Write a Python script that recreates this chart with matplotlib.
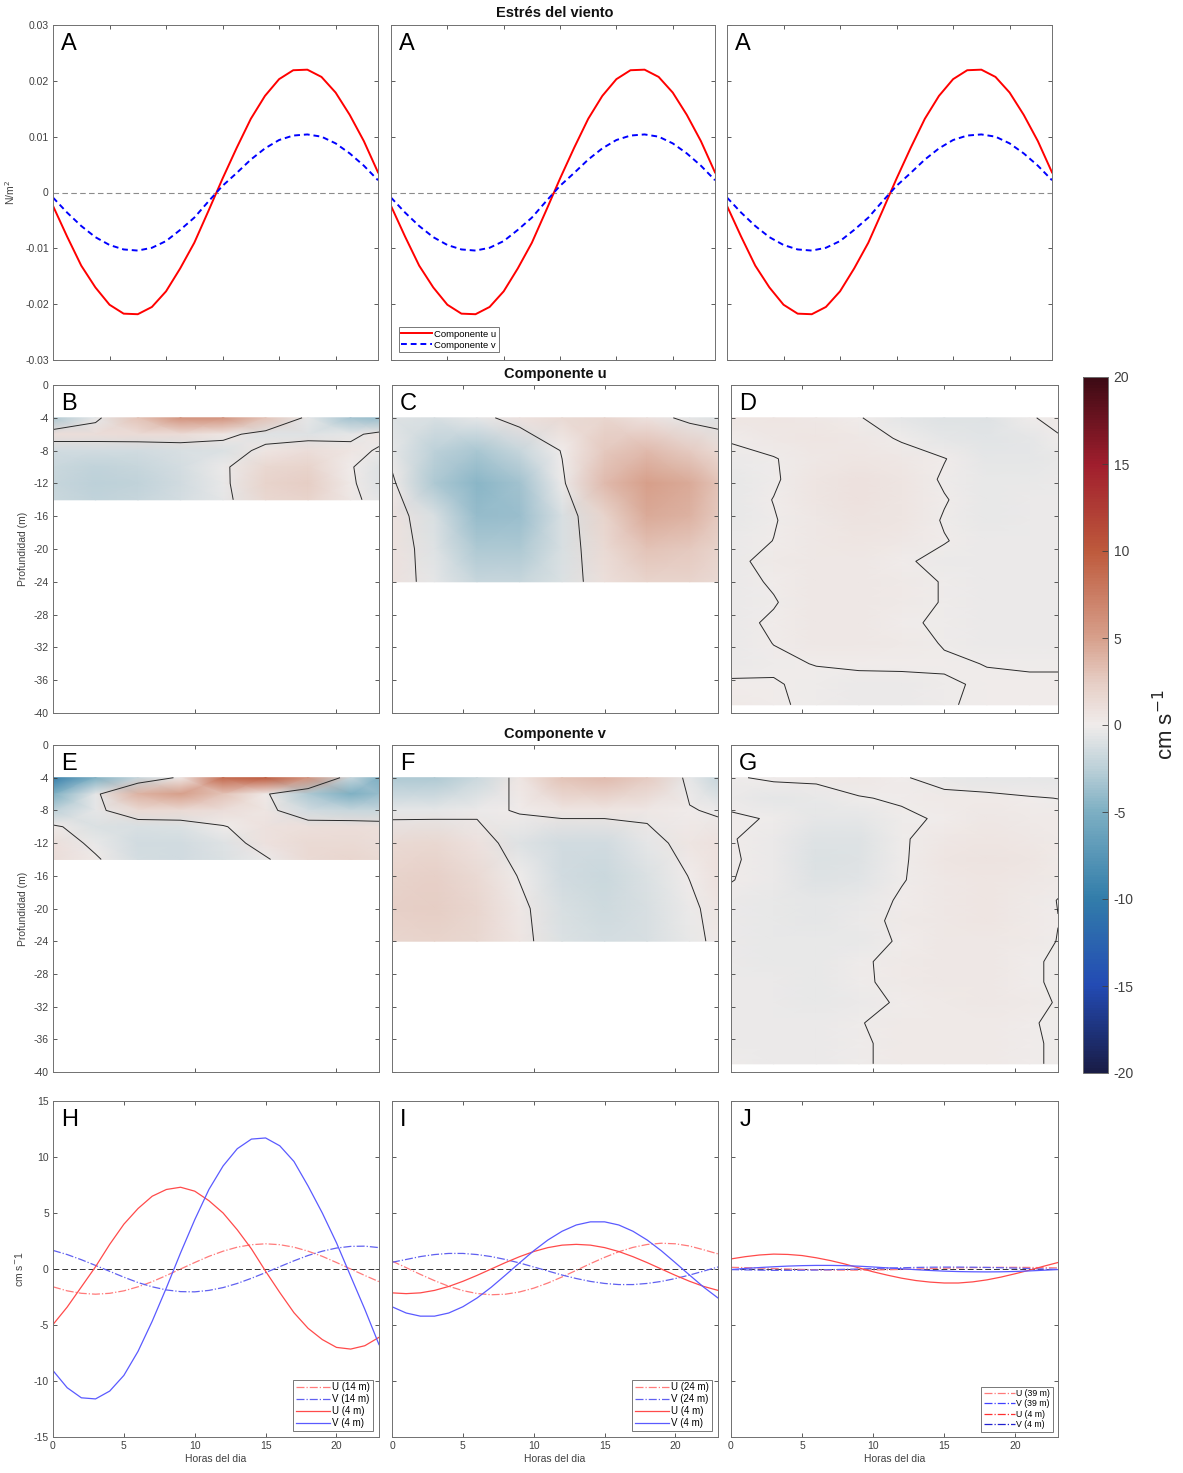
import numpy as np
import matplotlib.pyplot as plt
from matplotlib.colors import LinearSegmentedColormap
from matplotlib.lines import Line2D

plt.rcParams['font.family'] = ['Liberation Sans', 'DejaVu Sans']
plt.rcParams['axes.unicode_minus'] = False

W, H = 1183, 1473

# ---- wind stress (N/m^2), hourly
hours = list(range(24))
tau_u = [-0.0024, -0.0079, -0.0131, -0.0170, -0.0201, -0.0217, -0.0218, -0.0205,
         -0.0177, -0.0136, -0.0090, -0.0033, 0.0025, 0.0080, 0.0132, 0.0173,
         0.0203, 0.0219, 0.0220, 0.0207, 0.0179, 0.0139, 0.0092, 0.0036]
tau_v = [-0.0009, -0.0036, -0.0060, -0.0080, -0.0094, -0.0102, -0.0104, -0.0099,
         -0.0087, -0.0067, -0.0045, -0.0016, 0.0012, 0.0035, 0.0059, 0.0079,
         0.0094, 0.0102, 0.0104, 0.0100, 0.0088, 0.0070, 0.0048, 0.0022]

# ---- current sections (cm/s) on a coarse hour x depth grid
grid_hours = [0, 3, 6, 9, 12, 15, 18, 21, 23]
depth_14 = [-4, -6, -8, -10, -12, -14]
depth_24 = [-4, -8, -12, -16, -20, -24]
depth_39 = [-4, -6.5, -9, -11.5, -14, -16.5, -19, -21.5, -24, -26.5, -29, -31.5, -34, -36.5, -39]

u_14 = [[-3.0, -0.5, 3.0, 6.0, 6.0, 3.0, -0.5, -3.5, -4.0],
        [1.2, 1.2, 1.3, 1.3, 0.6, -0.8, -0.8, -0.5, 0.6],
        [-1.5, -1.5, -1.5, -1.2, -1.0, 0.5, 1.2, 0.6, -0.2],
        [-1.8, -2.2, -2.0, -1.4, -0.3, 1.6, 1.9, 0.1, -0.8],
        [-2.0, -2.5, -2.2, -1.5, -0.4, 2.0, 2.4, 0.2, -0.8],
        [-1.8, -2.2, -2.0, -1.4, -0.5, 1.6, 2.0, 0.4, -0.6]]

v_14 = [[-10.0, -5.0, -2.0, 0.4, 9.0, 10.0, 6.0, -2.0, -5.0],
        [-5.0, -0.5, 4.0, 5.0, 3.0, 0.3, -3.0, -5.0, -4.0],
        [-2.5, -0.5, 1.5, 1.5, 1.2, 0.6, -1.5, -2.0, -2.0],
        [0.3, -1.0, -1.2, -1.0, -0.1, 0.8, 1.0, 1.2, 1.0],
        [1.0, -0.4, -1.5, -1.5, -0.9, 0.8, 1.5, 1.5, 1.2],
        [1.2, 0.2, -1.3, -1.5, -1.0, -0.2, 1.5, 1.8, 1.5]]

u_24 = [[-0.8, -1.2, -0.6, 0.8, 1.5, 1.8, 0.8, -0.5, -0.8],
        [-0.5, -2.5, -3.2, -2.0, 0.1, 2.8, 3.5, 2.5, 1.5],
        [0.3, -3.0, -4.5, -3.5, -0.3, 3.5, 5.0, 4.5, 3.0],
        [0.8, -1.2, -4.0, -3.8, -1.2, 2.0, 4.5, 4.0, 2.8],
        [0.9, -0.8, -3.0, -3.0, -1.2, 1.5, 3.0, 2.8, 2.0],
        [0.8, -0.6, -2.0, -2.0, -1.0, 1.0, 2.0, 2.0, 1.5]]

v_24 = [[-3.0, -3.0, -1.8, 0.6, 3.0, 3.5, 2.5, -0.5, -2.0],
        [-0.6, -0.6, -0.3, 0.1, 0.5, 0.5, 0.4, 0.1, -0.2],
        [1.5, 1.6, 0.8, -0.8, -1.5, -1.5, -0.6, 0.6, 0.8],
        [2.0, 2.2, 1.5, -0.1, -1.5, -1.8, -1.0, 0.05, 0.8],
        [2.2, 2.4, 1.8, 0.4, -1.2, -1.6, -1.2, -0.3, 0.5],
        [1.8, 2.0, 1.6, 0.5, -1.0, -1.4, -1.1, -0.4, 0.3]]

u_39 = [[0.5, 0.5, 0.4, 0.05, -0.5, -0.8, -0.9, -0.1, 0.3],
        [0.1, 0.4, 0.5, 0.4, -0.1, -0.6, -0.7, -0.5, -0.1],
        [-0.3, -0.05, 0.4, 0.6, 0.4, 0.03, -0.5, -0.5, -0.4],
        [-0.4, -0.1, 0.5, 0.8, 0.5, -0.1, -0.4, -0.4, -0.3],
        [-0.4, 0.02, 0.5, 0.9, 0.6, 0.05, -0.4, -0.3, -0.3],
        [-0.35, -0.05, 0.45, 0.7, 0.5, -0.06, -0.35, -0.3, -0.25],
        [-0.3, 0.01, 0.4, 0.55, 0.45, 0.04, -0.3, -0.25, -0.2],
        [-0.2, 0.25, 0.4, 0.45, 0.1, -0.2, -0.3, -0.25, -0.2],
        [-0.25, 0.08, 0.4, 0.45, 0.3, -0.05, -0.3, -0.25, -0.2],
        [-0.3, -0.05, 0.4, 0.45, 0.3, -0.05, -0.3, -0.25, -0.2],
        [-0.2, 0.1, 0.4, 0.45, 0.15, -0.15, -0.3, -0.25, -0.2],
        [-0.25, 0.01, 0.35, 0.4, 0.3, -0.05, -0.3, -0.3, -0.25],
        [-0.25, -0.1, 0.02, 0.1, 0.12, 0.1, -0.02, -0.1, -0.1],
        [0.1, 0.05, -0.15, -0.2, -0.2, -0.1, 0.1, 0.15, 0.15],
        [0.2, 0.1, -0.15, -0.2, -0.2, -0.05, 0.1, 0.15, 0.15]]

v_39 = [[-0.1, 0.15, 0.2, 0.4, 0.1, -0.4, -0.5, -0.5, -0.5],
        [-0.2, -0.6, -0.45, -0.05, 0.1, 0.3, 0.2, 0.05, -0.01],
        [0.1, -0.05, -0.6, -0.6, -0.15, 0.1, 0.35, 0.3, 0.25],
        [0.05, -0.3, -0.9, -0.8, -0.1, 0.4, 0.6, 0.4, 0.3],
        [0.08, -0.25, -1.0, -0.9, -0.1, 0.5, 0.7, 0.5, 0.3],
        [0.03, -0.3, -0.8, -0.7, -0.05, 0.4, 0.6, 0.4, 0.2],
        [-0.2, -0.4, -0.6, -0.4, 0.1, 0.4, 0.5, 0.3, -0.02],
        [-0.2, -0.4, -0.5, -0.3, 0.2, 0.4, 0.5, 0.3, 0.01],
        [-0.2, -0.35, -0.45, -0.35, 0.1, 0.35, 0.45, 0.25, -0.02],
        [-0.2, -0.35, -0.4, -0.1, 0.2, 0.35, 0.4, 0.1, -0.1],
        [-0.2, -0.3, -0.4, -0.15, 0.25, 0.35, 0.4, 0.1, -0.1],
        [-0.2, -0.3, -0.35, -0.25, 0.1, 0.3, 0.35, 0.2, -0.05],
        [-0.2, -0.3, -0.3, -0.03, 0.2, 0.3, 0.3, 0.05, -0.1],
        [-0.2, -0.25, -0.3, -0.1, 0.2, 0.3, 0.3, 0.1, -0.1],
        [-0.15, -0.2, -0.25, -0.1, 0.2, 0.25, 0.25, 0.1, -0.1]]

# ---- time series at two depths (cm/s), hourly
u_top_14 = [-4.96, -3.4, -1.6, 0.2, 2.2, 4.0, 5.4, 6.5, 7.1, 7.3, 6.95, 6.1,
            5.0, 3.5, 1.8, -0.2, -2.1, -3.9, -5.3, -6.3, -7.0, -7.15, -6.85, -6.1]
v_top_14 = [-9.07, -10.6, -11.5, -11.6, -10.9, -9.5, -7.35, -4.66, -1.68, 1.44, 4.4, 7.1,
            9.2, 10.74, 11.6, 11.7, 11.0, 9.6, 7.4, 5.0, 2.34, -0.64, -3.6, -6.75]
u_bot_14 = [-1.59, -1.95, -2.17, -2.25, -2.17, -1.95, -1.59, -1.13, -0.58, 0.0, 0.58, 1.13,
            1.59, 1.95, 2.17, 2.25, 2.17, 1.95, 1.59, 1.13, 0.58, 0.0, -0.58, -1.13]
v_bot_14 = [1.66, 1.29, 0.83, 0.32, -0.21, -0.73, -1.21, -1.59, -1.87, -2.02, -2.04, -1.91,
            -1.66, -1.29, -0.83, -0.32, 0.21, 0.73, 1.21, 1.59, 1.87, 2.02, 2.04, 1.91]

u_top_24 = [-2.13, -2.2, -2.13, -1.91, -1.56, -1.1, -0.57, 0.0, 0.57, 1.1, 1.56, 1.91,
            2.13, 2.2, 2.13, 1.91, 1.56, 1.1, 0.57, 0.0, -0.57, -1.1, -1.56, -1.91]
v_top_24 = [-3.37, -3.93, -4.21, -4.21, -3.93, -3.37, -2.59, -1.63, -0.55, 0.55, 1.63, 2.59,
            3.37, 3.93, 4.21, 4.21, 3.93, 3.37, 2.59, 1.63, 0.55, -0.55, -1.63, -2.59]
u_bot_24 = [0.71, 0.12, -0.48, -1.04, -1.54, -1.93, -2.19, -2.3, -2.25, -2.05, -1.71, -1.25,
            -0.71, -0.12, 0.48, 1.04, 1.54, 1.93, 2.19, 2.3, 2.25, 2.05, 1.71, 1.35]
v_bot_24 = [0.6, 0.85, 1.11, 1.29, 1.39, 1.39, 1.29, 1.11, 0.85, 0.54, 0.18, -0.18,
            -0.54, -0.85, -1.11, -1.29, -1.39, -1.39, -1.29, -1.11, -0.85, -0.54, -0.18, 0.18]

u_top_39 = [0.9, 1.1, 1.25, 1.33, 1.3, 1.2, 1.0, 0.75, 0.45, 0.1, -0.25, -0.55,
            -0.82, -1.03, -1.17, -1.25, -1.25, -1.15, -0.97, -0.72, -0.42, -0.1, 0.25, 0.58]
v_top_39 = [-0.05, 0.05, 0.13, 0.2, 0.26, 0.3, 0.32, 0.32, 0.3, 0.25, 0.18, 0.1,
            0.02, -0.06, -0.13, -0.19, -0.23, -0.25, -0.26, -0.25, -0.22, -0.17, -0.11, -0.05]
u_bot_39 = [0.15, 0.12, 0.08, 0.04, 0.0, -0.04, -0.07, -0.09, -0.1, -0.1, -0.09, -0.07,
            -0.04, 0.0, 0.04, 0.07, 0.1, 0.12, 0.14, 0.15, 0.15, 0.14, 0.12, 0.1]
v_bot_39 = [-0.05, -0.08, -0.1, -0.12, -0.12, -0.11, -0.09, -0.06, -0.03, 0.0, 0.04, 0.08,
            0.11, 0.14, 0.16, 0.17, 0.17, 0.16, 0.14, 0.11, 0.08, 0.04, 0.0, -0.03]

# diverging map close to the one in the figure
cmap = LinearSegmentedColormap.from_list('bal', [
    (0.000, (25/255, 28/255, 70/255)),
    (0.125, (35/255, 75/255, 180/255)),
    (0.250, (50/255, 125/255, 170/255)),
    (0.375, (125/255, 175/255, 195/255)),
    (0.4375, (188/255, 208/255, 216/255)),
    (0.500, (240/255, 236/255, 235/255)),
    (0.5625, (230/255, 205/255, 196/255)),
    (0.625, (215/255, 160/255, 140/255)),
    (0.750, (190/255, 90/255, 60/255)),
    (0.875, (160/255, 30/255, 45/255)),
    (1.000, (60/255, 10/255, 20/255))])

GREY = '#404040'
fig = plt.figure(figsize=(W / 100, H / 100), dpi=100)


def add_ax(x0, y0, x1, y1):
    return fig.add_axes([x0 / W, 1 - y1 / H, (x1 - x0) / W, (y1 - y0) / H])


def style(ax):
    ax.tick_params(direction='in', length=3, width=0.6, top=True, right=True,
                   labelsize=7.5, colors=GREY, pad=3)
    for s in ax.spines.values():
        s.set_color('#707070')
        s.set_linewidth(0.7)


def letter(ax, s):
    ax.text(0.025, 0.975, s, transform=ax.transAxes, va='top', ha='left', fontsize=17)


# ---- row 1: wind stress
top_cols = [(53, 378), (391, 715), (727, 1052)]
for i, (x0, x1) in enumerate(top_cols):
    ax = add_ax(x0, 25, x1, 360)
    style(ax)
    ax.axhline(0, color='#8c8c8c', ls=(0, (5, 3)), lw=0.8)
    ax.plot(hours, tau_u, color='red', lw=1.4, label='Componente u')
    ax.plot(hours, tau_v, color='blue', lw=1.4, ls=(0, (3, 2)), label='Componente v')
    ax.set_xlim(0, 23)
    ax.set_ylim(-0.03, 0.03)
    ax.set_xticks([4, 8, 12, 16, 20])
    ax.set_xticklabels([])
    ax.set_yticks([-0.03, -0.02, -0.01, 0, 0.01, 0.02, 0.03])
    if i == 0:
        ax.set_yticklabels(['-0.03', '-0.02', '-0.01', '0', '0.01', '0.02', '0.03'])
        ax.set_ylabel('N/m$^2$', fontsize=7.5, color=GREY, labelpad=6)
    else:
        ax.set_yticklabels([])
    if i == 1:
        lg = ax.legend(loc='lower left', fontsize=6.8, frameon=True, fancybox=False,
                       borderpad=0.3, handlelength=3.2, handletextpad=0.3,
                       labelspacing=0.2, borderaxespad=0.8)
        lg.get_frame().set_edgecolor('#555555')
        lg.get_frame().set_linewidth(0.7)
    letter(ax, 'A')

# ---- rows 2 and 3: depth sections
mid_cols = [(53, 379), (392, 718), (731, 1058)]
sections = [
    (385, 713, [(u_14, depth_14, 'B', [10, 20]),
                (u_24, depth_24, 'C', [5, 10, 15, 20]),
                (u_39, depth_39, 'D', [5, 10, 15, 20])]),
    (745, 1072, [(v_14, depth_14, 'E', [10, 20]),
                 (v_24, depth_24, 'F', [10, 20]),
                 (v_39, depth_39, 'G', [10, 20])]),
]
mesh = None
for y0, y1, panels in sections:
    for i, ((x0, x1), (vals, depths, lab, xt)) in enumerate(zip(mid_cols, panels)):
        ax = add_ax(x0, y0, x1, y1)
        style(ax)
        X, Y = np.meshgrid(grid_hours, depths)
        V = np.array(vals)
        mesh = ax.pcolormesh(X, Y, V, shading='gouraud', cmap=cmap, vmin=-20, vmax=20)
        ax.contour(X, Y, V, levels=[0], colors='#2a2a2a', linewidths=0.7)
        ax.set_xlim(0, 23)
        ax.set_ylim(-40, 0)
        ax.set_xticks(xt)
        ax.set_xticklabels([])
        ax.set_yticks(list(range(-40, 1, 4)))
        if i == 0:
            ax.set_yticklabels([str(v) for v in range(-40, 1, 4)])
            ax.set_ylabel('Profundidad (m)', fontsize=7.5, color=GREY, labelpad=4)
        else:
            ax.set_yticklabels([])
        letter(ax, lab)

# colorbar
cax = add_ax(1083, 377, 1108, 1073)
cb = fig.colorbar(mesh, cax=cax, ticks=list(range(-20, 21, 5)))
cb.ax.tick_params(labelsize=10, direction='in', length=4, width=0.6, colors=GREY, pad=4)
cb.outline.set_edgecolor('#707070')
cb.outline.set_linewidth(0.7)
fig.text(1166 / W, 1 - 725 / H, 'cm s$^{\\mathsf{-1}}$', rotation=90, fontsize=16,
         ha='center', va='center', color='#222222')

# ---- row 4: time series
series = [
    ('H', u_bot_14, v_bot_14, u_top_14, v_top_14, '14 m'),
    ('I', u_bot_24, v_bot_24, u_top_24, v_top_24, '24 m'),
    ('J', u_bot_39, v_bot_39, u_top_39, v_top_39, '39 m'),
]
for i, ((x0, x1), (lab, ub, vb, ut, vt, dz)) in enumerate(zip(mid_cols, series)):
    ax = add_ax(x0, 1101, x1, 1437)
    style(ax)
    ax.axhline(0, color='#333333', ls=(0, (6, 3)), lw=0.7)
    l1, = ax.plot(hours, ub, color='#ff7a7a', lw=0.9, ls='-.', label=f'U ({dz})')
    l2, = ax.plot(hours, vb, color='#6060f0', lw=0.9, ls='-.', label=f'V ({dz})')
    l3, = ax.plot(hours, ut, color='#ff4a4a', lw=0.9, label='U (4 m)')
    l4, = ax.plot(hours, vt, color='#5a5aff', lw=0.9, label='V (4 m)')
    ax.set_xlim(0, 23)
    ax.set_ylim(-15, 15)
    ax.set_xticks([0, 5, 10, 15, 20])
    ax.set_yticks([-15, -10, -5, 0, 5, 10, 15])
    ax.set_xlabel('Horas del dia', fontsize=7.5, color=GREY, labelpad=2)
    if i == 0:
        ax.set_ylabel('cm s$^{-}$1', fontsize=7.5, color=GREY, labelpad=6)
    else:
        ax.set_yticklabels([])
    if lab == 'J':
        handles = [Line2D([], [], color='#ff7a7a', lw=0.9, ls='-.'),
                   Line2D([], [], color='#4040ff', lw=0.9, ls='-.'),
                   Line2D([], [], color='#ff3030', lw=0.9, ls='-.'),
                   Line2D([], [], color='#2020d0', lw=0.9, ls='-.')]
        labels = [f'U ({dz})', f'V ({dz})', 'U (4 m)', 'V (4 m)']
        lg = ax.legend(handles, labels, loc='lower right', fontsize=6.3, fancybox=False,
                       borderpad=0.3, handlelength=3.5, handletextpad=0.2,
                       labelspacing=0.15, borderaxespad=0.6)
    else:
        lg = ax.legend(handles=[l1, l2, l3, l4], loc='lower right', fontsize=7,
                       fancybox=False, borderpad=0.3, handlelength=3.5,
                       handletextpad=0.2, labelspacing=0.2, borderaxespad=0.6)
    lg.get_frame().set_edgecolor('#555555')
    lg.get_frame().set_linewidth(0.7)
    letter(ax, lab)

# titles
for y, t in [(13, 'Estrés del viento'), (374, 'Componente u'), (734, 'Componente v')]:
    fig.text(555 / W, 1 - y / H, t, ha='center', va='center', fontsize=10.5,
             fontweight='bold', color='#111111')

fig.savefig('out.png', dpi=100)
